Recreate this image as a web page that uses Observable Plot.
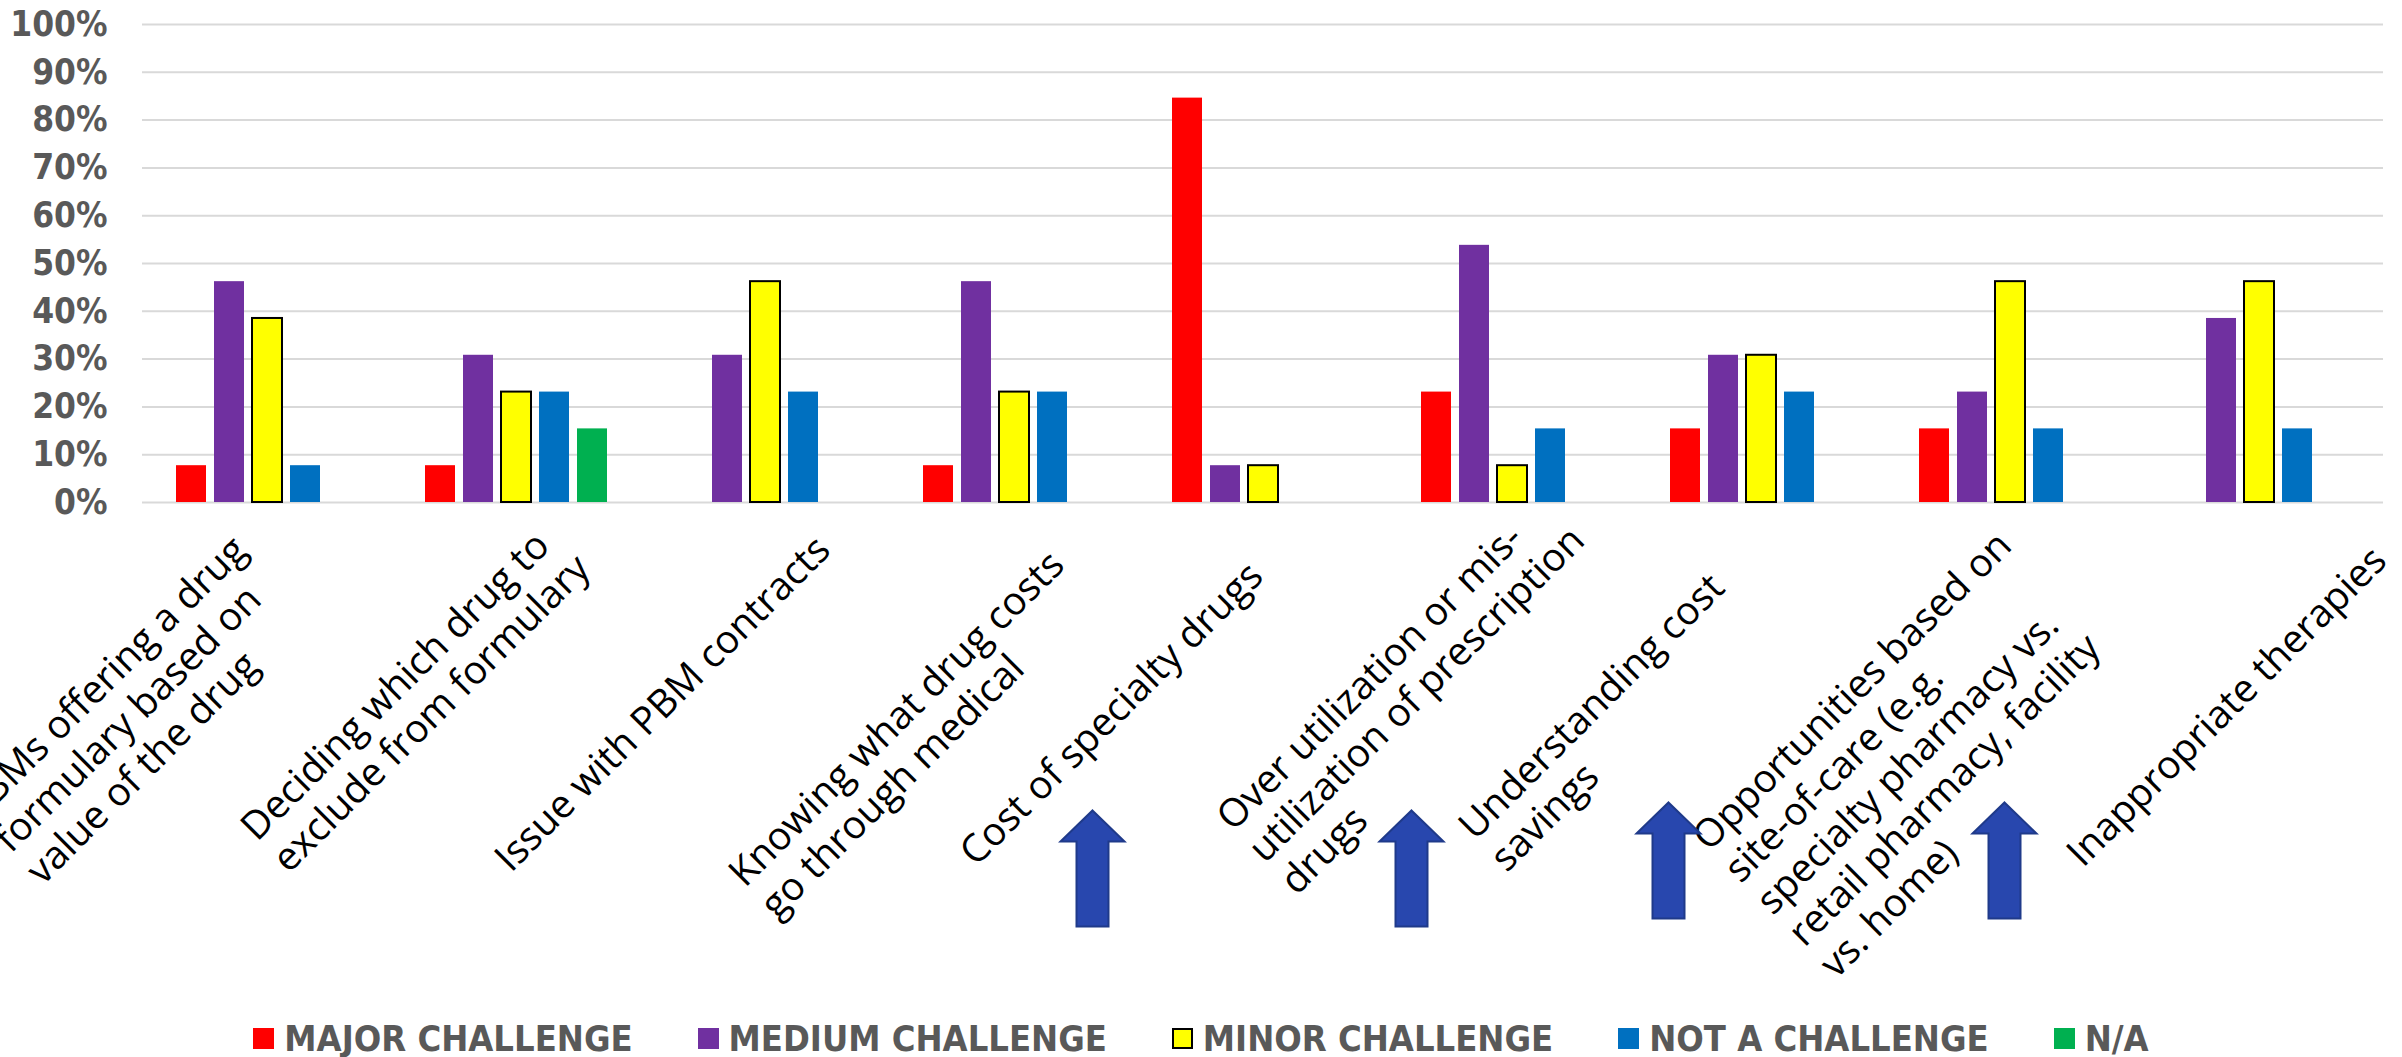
<!DOCTYPE html>
<html>
<head>
<meta charset="utf-8">
<script src="https://cdn.jsdelivr.net/npm/d3@7"></script>
<script src="https://cdn.jsdelivr.net/npm/@observablehq/plot@0.6"></script>
<style>
  html, body { margin: 0; padding: 0; background: #fff; overflow: hidden; }
  #chart { position: relative; width: 2402px; height: 1057px; }
  #chart svg { display: block; max-width: none; }
  .legend {
    position: absolute; left: 0; top: 1016px; width: 2402px; height: 44px;
    display: flex; justify-content: center; align-items: center; gap: 65px;
    font-family: "DejaVu Sans Condensed", "Liberation Sans Narrow", "DejaVu Sans", sans-serif;
    font-stretch: condensed; font-weight: bold; font-size: 36px; color: #595959;
  }
  .legend-item { display: flex; align-items: center; gap: 10px; }
  .legend-swatch { width: 21px; height: 21px; box-sizing: border-box; }
</style>
</head>
<body>
<div id="chart"></div>
<script>
// Survey categories (13 respondents each)
const categories = [
  "PBMs offering a drug formulary based on value of the drug",
  "Deciding which drug to exclude from formulary",
  "Issue with PBM contracts",
  "Knowing what drug costs go through medical",
  "Cost of specialty drugs",
  "Over utilization or mis-utilization of prescription drugs",
  "Understanding cost savings",
  "Opportunities based on site-of-care (e.g. specialty pharmacy vs. retail pharmacy, facility vs. home)",
  "Inappropriate therapies"
];

// Category tick labels, wrapped
const tickLabels = [
  "PBMs offering a drug\nformulary based on\nvalue of the drug",
  "Deciding which drug to\nexclude from formulary",
  "Issue with PBM contracts",
  "Knowing what drug costs\ngo through medical",
  "Cost of specialty drugs",
  "Over utilization or mis-\nutilization of prescription\ndrugs",
  "Understanding cost\nsavings",
  "Opportunities based on\nsite-of-care (e.g.\nspecialty pharmacy vs.\nretail pharmacy, facility\nvs. home)",
  "Inappropriate therapies"
];

const series = ["MAJOR CHALLENGE", "MEDIUM CHALLENGE", "MINOR CHALLENGE", "NOT A CHALLENGE", "N/A"];
const seriesColors = ["#FF0000", "#7030A0", "#FFFF00", "#0070C0", "#00B050"];

// Share of respondents (%) per category
const majorChallenge  = [7.7, 7.7, 0, 7.7, 84.6, 23.1, 15.4, 15.4, 0];
const mediumChallenge = [46.2, 30.8, 30.8, 46.2, 7.7, 53.8, 30.8, 23.1, 38.5];
const minorChallenge  = [38.5, 23.1, 46.2, 23.1, 7.7, 7.7, 30.8, 46.2, 46.2];
const notAChallenge   = [7.7, 23.1, 23.1, 23.1, 0, 15.4, 23.1, 15.4, 15.4];
const notApplicable   = [0, 15.4, 0, 0, 0, 0, 0, 0, 0];

const yTicks = [0, 10, 20, 30, 40, 50, 60, 70, 80, 90, 100];

// Categories flagged with an arrow
const flagged = [categories[4], categories[5], categories[6], categories[7]];

// ---- layout ----
const W = 2402, H = 1020;
const labelFont = "'Open Sans', 'Noto Sans', sans-serif";
const labelSize = 39;
const boldFont = "'DejaVu Sans Condensed', 'Liberation Sans Narrow', 'DejaVu Sans', sans-serif";
// baseline start of each label's first line, relative to band centre on the zero line
const labelStart = [
  [-291, 317], [-262, 337], [-257, 368], [-272, 383], [-290, 362],
  [-282, 327], [-289, 336], [-304, 347], [-179, 363]
];
// arrow centres relative to the flagged band centre on the zero line
const arrowOffset = [[-170.5, 366], [-100.5, 366], [-92.5, 358], [-5.5, 358]];

const seriesValues = [majorChallenge, mediumChallenge, minorChallenge, notAChallenge, notApplicable];
const rows = categories.flatMap((c, i) =>
  series.map((s, j) => ({category: c, series: s, value: seriesValues[j][i]}))
).filter(d => d.value > 0);

// upward block arrow
const blockArrow = {
  draw(context) {
    context.moveTo(0, -58);
    context.lineTo(32, -27);
    context.lineTo(16, -27);
    context.lineTo(16, 58);
    context.lineTo(-16, 58);
    context.lineTo(-16, -27);
    context.lineTo(-32, -27);
    context.closePath();
  }
};

const lift = 0.71 * labelSize * Math.SQRT1_2;
const labelMarks = categories.map((c, i) => Plot.text([c], {
  fx: d => d,
  text: () => tickLabels[i],
  frameAnchor: "bottom",
  dx: labelStart[i][0] - lift,
  dy: labelStart[i][1] - lift,
  rotate: -45,
  textAnchor: "start",
  lineAnchor: "top",
  lineHeight: 45 / labelSize,
  fontSize: labelSize,
  fontFamily: labelFont,
  fill: "#000"
}));

const arrowMarks = flagged.map((c, i) => Plot.dot([c], {
  fx: d => d,
  frameAnchor: "bottom",
  dx: arrowOffset[i][0],
  dy: arrowOffset[i][1],
  symbol: blockArrow,
  fill: "#2847AE",
  stroke: "#1F3A8A",
  strokeWidth: 2
}));

const chart = Plot.plot({
  width: W,
  height: H,
  marginLeft: 142,
  marginRight: 19,
  marginTop: 24,
  marginBottom: H - 502,
  style: {background: "#fff", overflow: "visible"},
  fx: {domain: categories, padding: 0, axis: null},
  x: {domain: series, paddingInner: 0.217, paddingOuter: 0.859, axis: null},
  y: {domain: [0, 100]},
  color: {domain: series, range: seriesColors},
  marks: [
    Plot.gridY(yTicks, {stroke: "#d9d9d9", strokeOpacity: 1, strokeWidth: 2}),
    Plot.axisY({
      ticks: yTicks, tickFormat: d => d + "%", tickSize: 0, tickPadding: 35,
      fontSize: 35, fontWeight: "bold", fontFamily: boldFont,
      color: "#595959", fill: "#595959", label: null
    }),
    Plot.barY(rows.filter(d => d.series !== "MINOR CHALLENGE"),
      {fx: "category", x: "series", y: "value", fill: "series"}),
    Plot.barY(rows.filter(d => d.series === "MINOR CHALLENGE"),
      {fx: "category", x: "series", y: "value", fill: "series", stroke: "#000", strokeWidth: 2}),
    ...labelMarks,
    ...arrowMarks
  ]
});

const root = document.getElementById("chart");
root.appendChild(chart);

// legend below the chart
const legend = document.createElement("div");
legend.className = "legend";
series.forEach((s, j) => {
  const item = document.createElement("div");
  item.className = "legend-item";
  const sw = document.createElement("span");
  sw.className = "legend-swatch";
  sw.style.background = seriesColors[j];
  if (s === "MINOR CHALLENGE") sw.style.border = "2px solid #000";
  const label = document.createElement("span");
  label.textContent = s;
  item.append(sw, label);
  legend.appendChild(item);
});
root.appendChild(legend);
</script>
</body>
</html>
